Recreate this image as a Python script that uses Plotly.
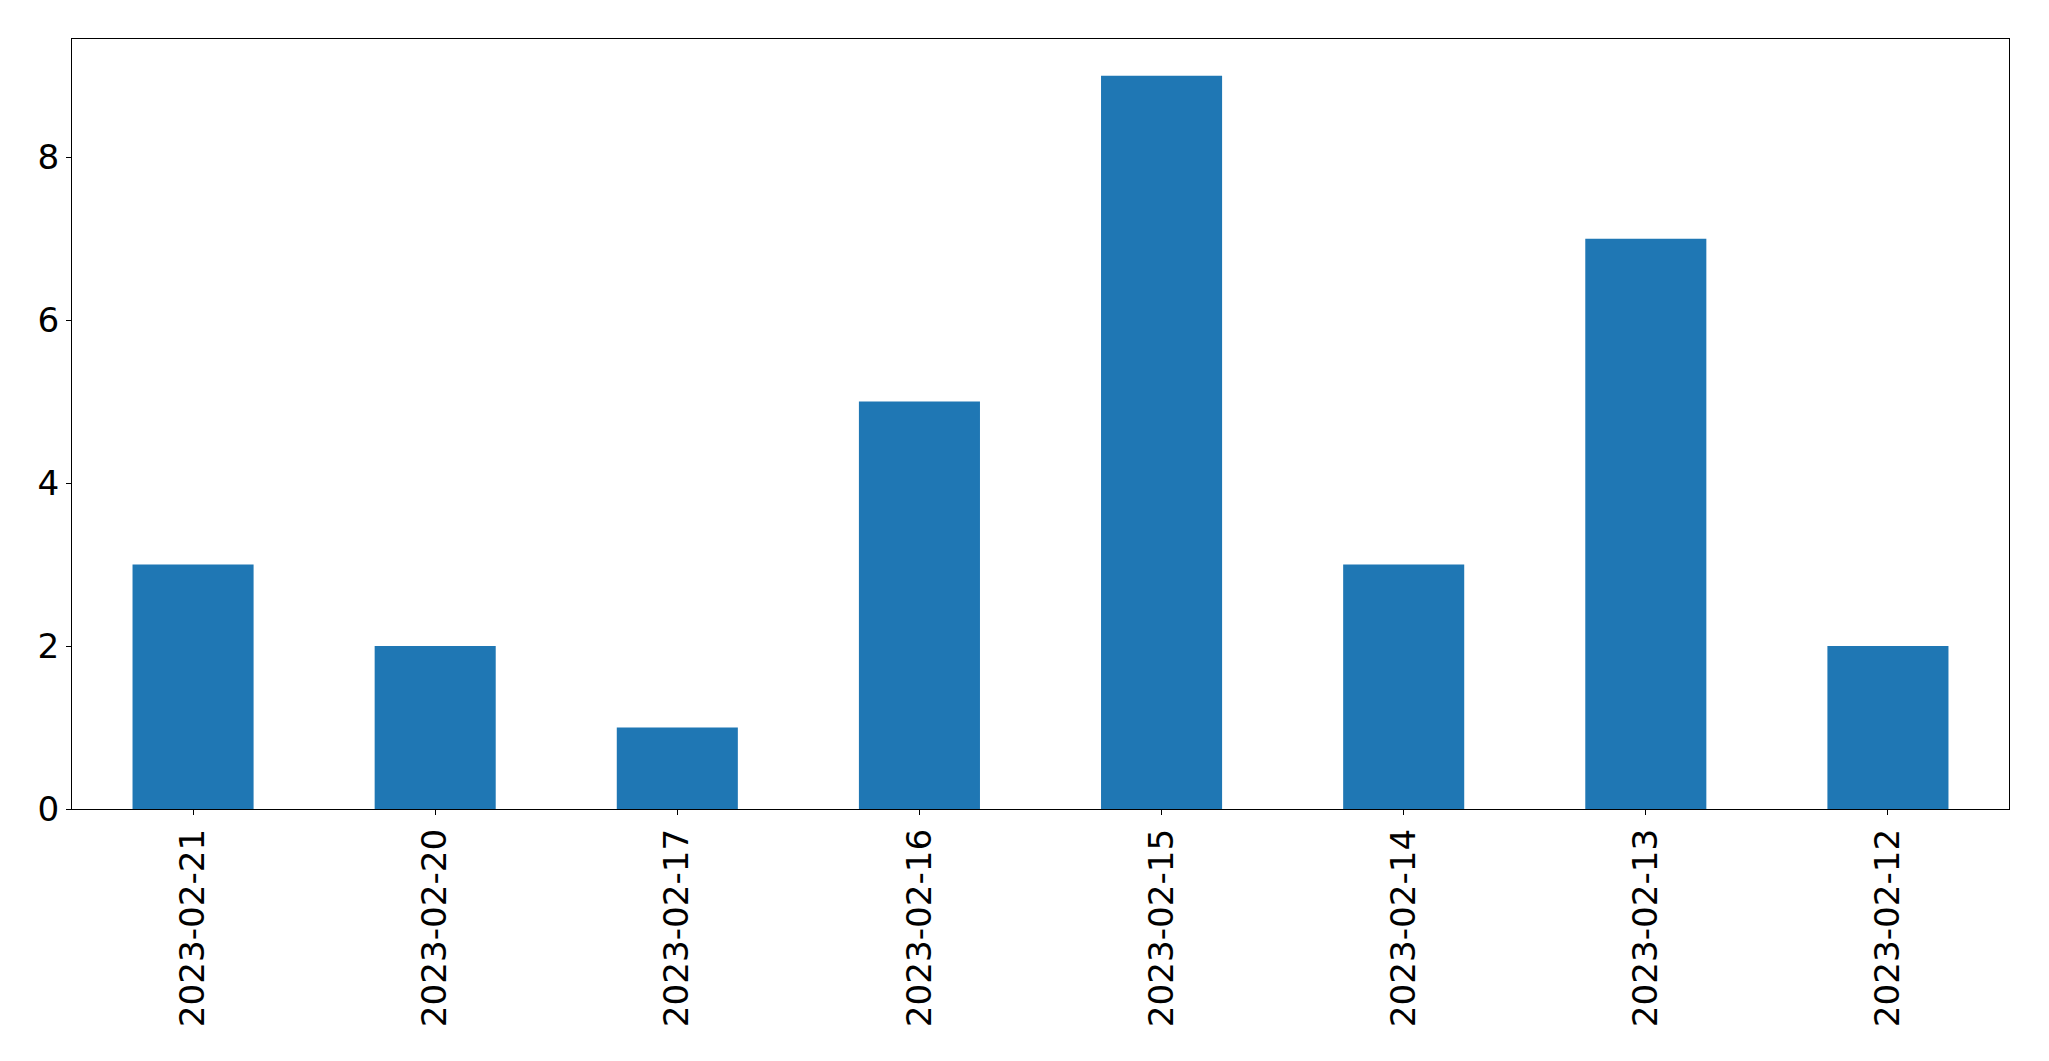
import plotly.graph_objects as go

dates = ["2023-02-21", "2023-02-20", "2023-02-17", "2023-02-16",
         "2023-02-15", "2023-02-14", "2023-02-13", "2023-02-12"]
counts = [3, 2, 1, 5, 9, 3, 7, 2]
y_ticks = [0, 2, 4, 6, 8]

fig = go.Figure(go.Bar(x=dates, y=counts, width=0.5, marker_color="#1f77b4",
                       marker_line_width=0))

font = dict(family="DejaVu Sans", size=34.2, color="black")
fig.update_layout(
    width=2041, height=1053,
    margin=dict(l=64, r=40, t=31, b=252, autoexpand=False),
    plot_bgcolor="white", paper_bgcolor="white",
    showlegend=False,
    font=font,
)
fig.update_xaxes(
    type="category", range=[-0.5, 7.5], tickangle=-90,
    showline=True, linecolor="black", linewidth=1, mirror=True,
    ticks="outside", ticklen=5, tickcolor="black", tickwidth=1,
    showgrid=False, zeroline=False, tickfont=font, ticklabelstandoff=0,
)
fig.update_yaxes(
    range=[0, 9.45], tickvals=y_ticks, ticktext=[str(v) for v in y_ticks],
    showline=True, linecolor="black", linewidth=1, mirror=True,
    ticks="outside", ticklen=5, tickcolor="black", tickwidth=1,
    showgrid=False, zeroline=False, tickfont=font, ticklabelstandoff=0,
)
fig.write_html("out.html")
